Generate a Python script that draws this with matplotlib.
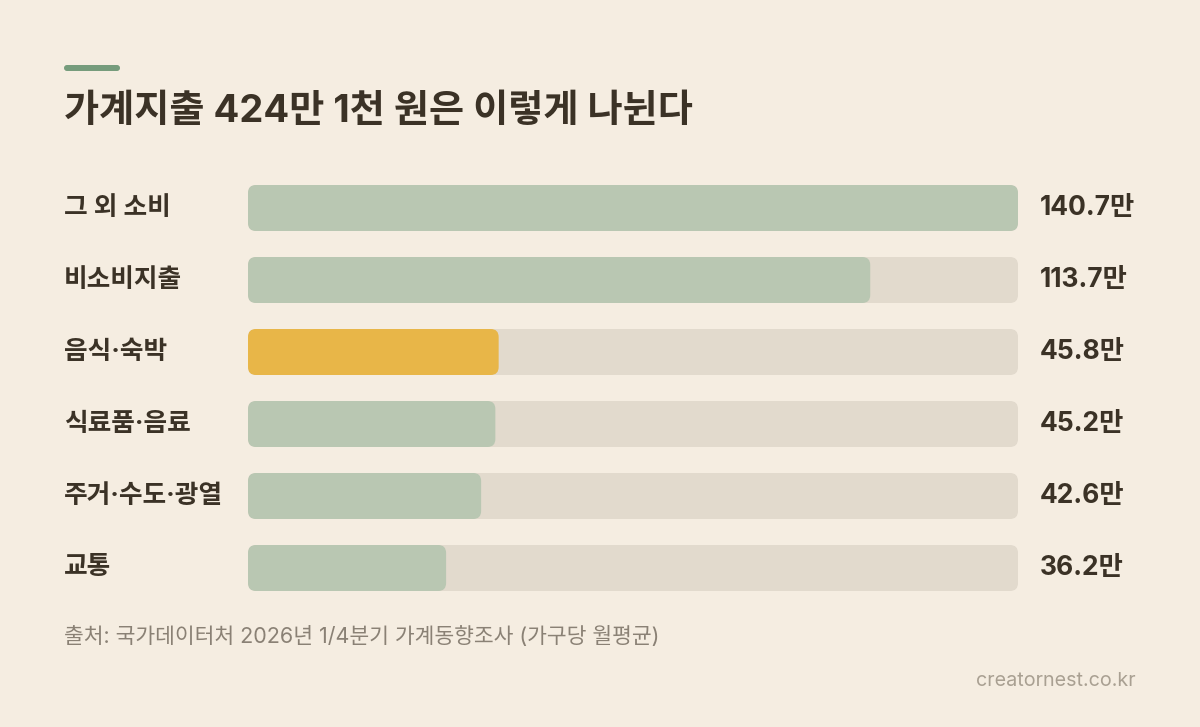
import matplotlib
matplotlib.use('Agg')
import matplotlib.pyplot as plt
from matplotlib.patches import FancyBboxPatch

FONTS = ['Inter', 'Noto Sans CJK KR', 'DejaVu Sans']
plt.rcParams['font.family'] = FONTS

# data
categories = ['그 외 소비', '비소비지출', '음식·숙박', '식료품·음료', '주거·수도·광열', '교통']
values = [140.7, 113.7, 45.8, 45.2, 42.6, 36.2]
highlight = '음식·숙박'
title = '가계지출 424만 1천 원은 이렇게 나뉜다'
source = '출처: 국가데이터처 2026년 1/4분기 가계동향조사 (가구당 월평균)'
site = 'creatornest.co.kr'

bg = '#f5ede1'
ink = '#3b3226'
green = '#b9c7b2'
track = '#e2dacd'
gold = '#e8b648'
accent = '#769c7c'

W, H = 1200, 727
fig = plt.figure(figsize=(12, 7.27), dpi=100, facecolor=bg)

# full-figure axes in pixel units for text
base = fig.add_axes([0, 0, 1, 1])
base.set_xlim(0, W)
base.set_ylim(H, 0)
base.axis('off')

base.add_patch(FancyBboxPatch((64, 65), 56, 6, boxstyle='round,pad=0,rounding_size=3',
                              fc=accent, ec='none'))
base.text(64, 112, title, fontsize=27.5, fontweight='bold', color=ink, va='center', ha='left')

# bar axes
x0, x1 = 248, 1018
top, bottom = 172, 604
ax = fig.add_axes([x0 / W, 1 - bottom / H, (x1 - x0) / W, (bottom - top) / H])
ax.set_xlim(0, max(values))
ax.set_ylim(len(values) - 0.5, -0.5)
ax.axis('off')

px_x = (x1 - x0) / max(values)   # px per x unit
px_y = (bottom - top) / len(values)  # px per row
bar_h = 46 / px_y
r = 8 / px_x
aspect = px_x / px_y

for i, (cat, v) in enumerate(zip(categories, values)):
    ax.add_patch(FancyBboxPatch((0, i - bar_h / 2), max(values), bar_h,
                                boxstyle=f'round,pad=0,rounding_size={r}',
                                mutation_aspect=aspect, fc=track, ec='none'))
    ax.add_patch(FancyBboxPatch((0, i - bar_h / 2), v, bar_h,
                                boxstyle=f'round,pad=0,rounding_size={r}',
                                mutation_aspect=aspect,
                                fc=gold if cat == highlight else green, ec='none'))
    yc = top + (i + 0.5) * px_y
    base.text(64, yc, cat, fontsize=18.5, fontweight='bold', color=ink, va='center', ha='left')
    base.text(1040, yc, f'{v:.1f}만', fontsize=19, fontweight='bold', color=ink,
              va='center', ha='left')

base.text(64, 637, source, fontsize=15.5, color='#8a8175', va='center', ha='left')
base.text(1136, 681, site, fontsize=14.2, color='#a9a092', va='center', ha='right')

fig.savefig('out.png', dpi=100, facecolor=bg)
